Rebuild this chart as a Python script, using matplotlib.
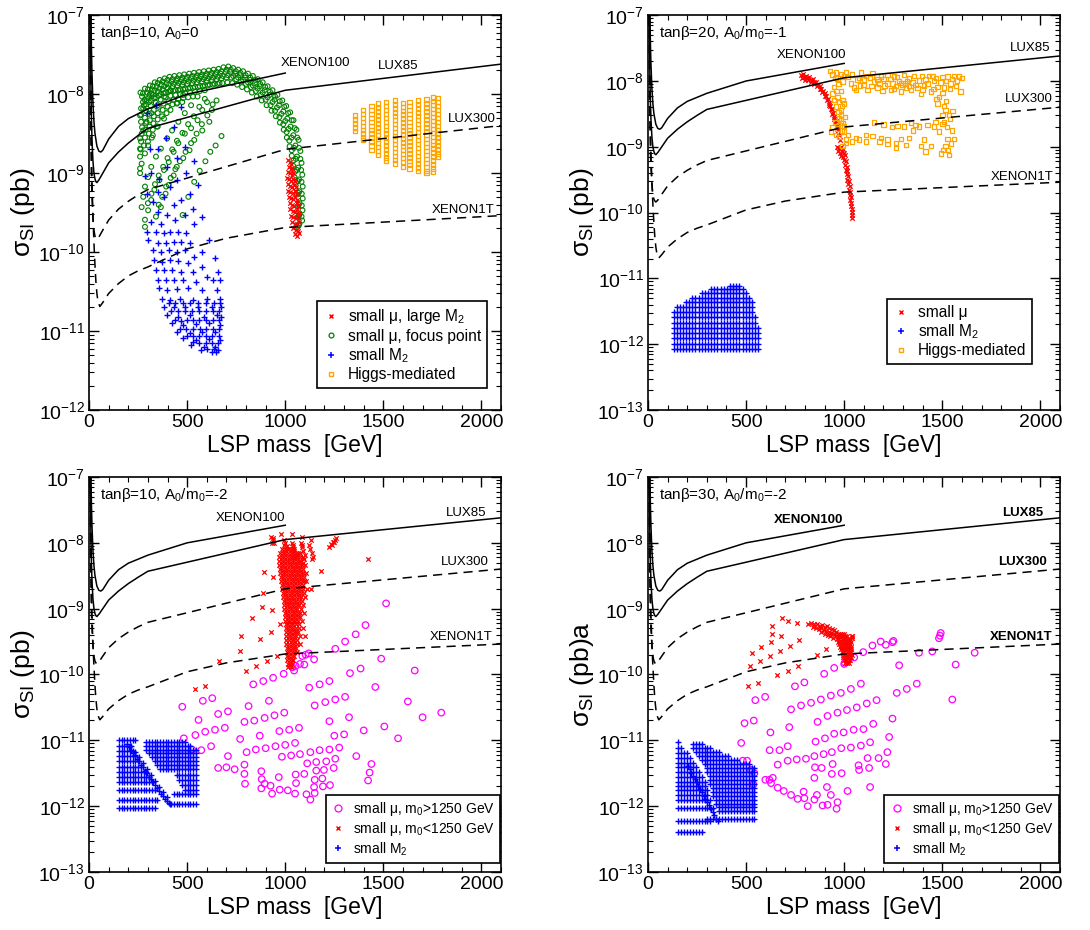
import numpy as np
import matplotlib
matplotlib.use("Agg")
import matplotlib.pyplot as plt
from matplotlib.ticker import FixedLocator, MultipleLocator, NullFormatter, FuncFormatter
from matplotlib.lines import Line2D

plt.rcParams.update({
    "font.family": ["Liberation Sans", "DejaVu Sans"],
    "mathtext.fontset": "custom",
    "mathtext.rm": "Liberation Sans",
    "mathtext.it": "Liberation Sans:italic",
    "mathtext.bf": "Liberation Sans:bold",
    "mathtext.default": "regular",
})

# ---------------- experimental limits: LSP mass [GeV], sigma_SI [pb] ----------------
xenon100_mass = [6, 8, 10, 12, 15, 20, 25, 30, 40, 50, 60, 70, 100, 150, 200, 300, 500, 1000]
xenon100_sigma = [5e-6, 5e-7, 1e-7, 4e-8, 1.8e-8, 7.5e-9, 4.5e-9, 3.2e-9, 2.2e-9, 1.9e-9, 1.85e-9,
                  1.95e-9, 2.7e-9, 3.9e-9, 4.9e-9, 6.5e-9, 1.0e-8, 1.85e-8]
lux_mass = [5, 6, 7, 8, 10, 12, 15, 20, 25, 30, 35, 40, 50, 70, 100, 150, 200, 250, 300, 1000, 2100]
lux85_sigma = [3e-6, 3e-7, 8e-8, 3.5e-8, 1e-8, 5e-9, 2.6e-9, 1.4e-9, 1.0e-9, 8.5e-10, 7.8e-10, 7.6e-10,
               8.2e-10, 1.0e-9, 1.35e-9, 1.85e-9, 2.4e-9, 3.0e-9, 3.7e-9, 1.12e-8, 2.4e-8]
lux300_sigma = [6e-7, 6e-8, 1.6e-8, 7e-9, 2e-9, 9e-10, 5e-10, 2.7e-10, 1.9e-10, 1.6e-10, 1.5e-10, 1.45e-10,
                1.55e-10, 1.9e-10, 2.55e-10, 3.5e-10, 4.4e-10, 5.3e-10, 6.2e-10, 2.0e-9, 4.0e-9]
xenon1t_mass = [6, 8, 10, 12, 15, 20, 25, 30, 35, 40, 45, 55, 70, 100, 150, 200, 250, 300, 500, 700, 1000, 2100]
xenon1t_sigma = [5e-6, 3e-7, 2e-8, 3e-9, 8e-10, 2.8e-10, 1.3e-10, 7e-11, 4.2e-11, 3e-11, 2.4e-11, 2.05e-11,
                 2.3e-11, 3.0e-11, 4.0e-11, 5.0e-11, 5.8e-11, 6.5e-11, 1.1e-10, 1.5e-10, 2.05e-10, 2.9e-10]

# ---------------- scan points: (mass [GeV], log10 sigma_SI [pb]) ----------------
# panel (a): tan(beta)=10, A0=0
p1_red = [(1014, -8.83), (1022, -8.86), (1030, -8.88), (1018, -8.92), (1028, -8.95), (1036, -8.93), (1012, -8.98),
          (1022, -9.0), (1032, -9.02), (1042, -9.0), (1010, -9.06), (1020, -9.08), (1030, -9.1), (1040, -9.07),
          (1048, -9.1), (1012, -9.14), (1022, -9.16), (1034, -9.18), (1044, -9.15), (1054, -9.18), (1016, -9.22),
          (1026, -9.24), (1038, -9.25), (1048, -9.22), (1058, -9.26), (1018, -9.3), (1030, -9.32), (1042, -9.33),
          (1052, -9.3), (1062, -9.34), (1022, -9.38), (1034, -9.4), (1046, -9.41), (1058, -9.38), (1066, -9.42),
          (1026, -9.46), (1038, -9.48), (1050, -9.49), (1062, -9.46), (1070, -9.5), (1030, -9.54), (1042, -9.56),
          (1054, -9.57), (1066, -9.55), (1036, -9.62), (1048, -9.64), (1060, -9.65), (1070, -9.62), (1042, -9.7),
          (1054, -9.72), (1064, -9.73), (1050, -9.77), (1060, -9.79), (1068, -9.76)]

p1_green_band = [
    (262, -7.98), (285, -7.93), (310, -7.89), (335, -7.85), (360, -7.82), (385, -7.80), (410, -7.78), (435, -7.77),
    (460, -7.76), (485, -7.75), (510, -7.74), (535, -7.73), (560, -7.72), (585, -7.71), (610, -7.70), (635, -7.69),
    (660, -7.68), (685, -7.66), (710, -7.65), (735, -7.67), (760, -7.69), (785, -7.71), (810, -7.74), (835, -7.77),
    (860, -7.81), (885, -7.85), (910, -7.90), (935, -7.95), (960, -8.01), (985, -8.08), (1005, -8.15), (1025, -8.23),
    (1042, -8.33), (1057, -8.45), (1068, -8.58), (1077, -8.72), (1083, -8.87), (1087, -9.02), (1089, -9.17),
    (1089, -9.32), (1088, -9.47), (1086, -9.60),
    (275, -7.99), (300, -7.94), (325, -7.90), (350, -7.86), (375, -7.84), (400, -7.82), (425, -7.81), (450, -7.80),
    (475, -7.79), (500, -7.78), (525, -7.77), (550, -7.76), (575, -7.75), (600, -7.74), (625, -7.73), (650, -7.72),
    (675, -7.71), (700, -7.69), (722, -7.69), (748, -7.71), (772, -7.73), (798, -7.76), (822, -7.79), (848, -7.82),
    (872, -7.87), (898, -7.91), (922, -7.97), (948, -8.03), (972, -8.09), (995, -8.16), (1015, -8.24),
    (1033, -8.33), (1048, -8.43), (1061, -8.55), (1070, -8.68), (1077, -8.82), (1081, -8.96), (1083, -9.11),
    (1084, -9.26), (1084, -9.41), (1083, -9.55),
    (270, -8.03), (295, -7.98), (320, -7.94), (345, -7.90), (370, -7.88), (395, -7.86), (420, -7.84), (445, -7.83),
    (470, -7.82), (495, -7.81), (520, -7.80), (545, -7.79), (570, -7.78), (595, -7.77), (620, -7.76), (645, -7.75),
    (670, -7.74), (695, -7.72), (720, -7.72), (745, -7.74), (770, -7.76), (795, -7.79), (820, -7.82), (845, -7.86),
    (870, -7.90), (895, -7.95), (920, -8.01), (945, -8.07), (968, -8.14), (990, -8.22), (1010, -8.31), (1027, -8.41),
    (1041, -8.52), (1052, -8.65), (1060, -8.79), (1066, -8.93), (1070, -9.08), (1072, -9.23), (1073, -9.38),
    (1073, -9.52), (1072, -9.64),
    (283, -8.07), (308, -8.01), (333, -7.96), (358, -7.93), (383, -7.90), (408, -7.88), (433, -7.87), (458, -7.86),
    (483, -7.85), (508, -7.84), (533, -7.83), (558, -7.82), (583, -7.81), (608, -7.80), (633, -7.79), (658, -7.78),
    (683, -7.77), (708, -7.76), (735, -7.77), (760, -7.79), (785, -7.82), (810, -7.85), (835, -7.89), (860, -7.93),
    (885, -7.98), (910, -8.04), (935, -8.10), (958, -8.17), (980, -8.25), (1000, -8.34), (1017, -8.44),
    (1032, -8.55), (1045, -8.68), (1054, -8.82), (1060, -8.96), (1064, -9.10), (1067, -9.25), (1068, -9.40),
    (1069, -9.54), (1069, -9.66),
    (275, -8.10), (300, -8.05), (325, -8.01), (350, -7.97), (375, -7.94), (400, -7.92), (425, -7.90), (450, -7.89),
    (475, -7.88), (500, -7.87), (525, -7.86), (550, -7.85), (575, -7.84), (600, -7.83), (625, -7.82), (650, -7.81),
    (675, -7.80), (700, -7.79), (725, -7.79), (750, -7.81), (775, -7.84), (800, -7.87), (825, -7.91), (850, -7.96),
    (875, -8.01), (900, -8.07), (925, -8.14), (948, -8.21), (970, -8.29), (990, -8.38), (1007, -8.48), (1021, -8.59),
    (1033, -8.71), (1042, -8.84), (1050, -8.98), (1056, -9.12), (1060, -9.27), (1062, -9.42), (1063, -9.56),
    (1064, -9.68),
    (280, -8.14), (305, -8.10), (330, -8.05), (355, -8.02), (380, -7.99), (405, -7.97), (430, -7.96), (455, -7.95),
    (480, -7.94), (505, -7.93), (530, -7.92), (555, -7.91), (580, -7.90), (605, -7.89), (630, -7.88), (655, -7.87),
    (680, -7.86), (705, -7.85), (730, -7.86), (755, -7.88), (780, -7.91), (805, -7.94), (830, -7.98), (855, -8.03),
    (880, -8.08), (905, -8.14), (930, -8.21), (952, -8.28), (973, -8.36), (992, -8.45), (1008, -8.55),
    (1022, -8.66), (1033, -8.78), (1041, -8.91), (1047, -9.05), (1052, -9.19),
    (265, -8.18), (290, -8.13), (315, -8.08), (340, -8.04), (365, -8.00), (390, -7.98), (415, -7.96), (440, -7.95),
    (465, -7.94), (490, -7.93), (515, -7.92), (540, -7.91), (565, -7.90), (590, -7.89), (615, -7.88), (640, -7.87),
    (665, -7.86),
    (265, -8.26), (290, -8.21), (315, -8.15), (340, -8.11), (365, -8.07), (390, -8.04), (415, -8.02), (440, -8.01),
    (465, -8.00), (490, -7.99), (515, -7.98), (540, -7.97), (565, -7.96), (590, -7.95),
    (265, -8.35), (285, -8.30), (305, -8.25), (330, -8.20), (355, -8.16), (380, -8.12), (405, -8.09), (430, -8.07),
    (455, -8.06), (480, -8.05), (505, -8.04), (530, -8.03),
    (270, -8.42), (290, -8.37), (310, -8.33), (330, -8.28), (350, -8.24), (375, -8.20), (400, -8.16), (425, -8.13),
    (450, -8.11), (475, -8.10), (268, -8.50), (288, -8.45), (308, -8.41), (328, -8.37), (350, -8.32), (372, -8.28),
    (395, -8.24), (265, -8.60), (285, -8.55), (305, -8.50), (325, -8.45), (345, -8.41), (263, -8.70), (280, -8.65),
    (300, -8.60), (320, -8.55),
]

p1_green_sparse = [
    (675, -8.53), (645, -8.65), (618, -8.73), (593, -8.85), (564, -8.97), (536, -9.11), (506, -9.30), (477, -9.53),
    (650, -8.08), (626, -8.20), (613, -8.35), (577, -8.46), (536, -8.58), (512, -8.71), (480, -8.81), (447, -8.92),
    (431, -9.03), (406, -9.15), (390, -9.26), (366, -9.43), (341, -9.55),
    (601, -8.10), (577, -8.20), (553, -8.33), (520, -8.43), (488, -8.50), (455, -8.62), (431, -8.73), (406, -8.86),
    (382, -8.96), (358, -9.09), (333, -9.21), (317, -9.34), (301, -9.47), (285, -9.59), (285, -9.68),
    (553, -8.03), (520, -8.14), (488, -8.24), (455, -8.35), (423, -8.46), (398, -8.56), (366, -8.69), (341, -8.79),
    (317, -8.92), (301, -9.05), (285, -9.17), (276, -9.30), (268, -9.43),
    (480, -8.01), (447, -8.12), (415, -8.20), (382, -8.31), (350, -8.41), (325, -8.52), (301, -8.65), (285, -8.75),
    (268, -8.88), (260, -9.00),
    (415, -7.95), (382, -8.03), (350, -8.14), (317, -8.24), (293, -8.35), (276, -8.46), (260, -8.56), (260, -8.69),
    (260, -8.79), (260, -8.94),
    (317, -7.99), (293, -8.08), (276, -8.18), (260, -8.27),
    (630, -8.13), (603, -8.27), (575, -8.38), (548, -8.50), (520, -8.62), (492, -8.73), (463, -8.85), (440, -8.95),
    (416, -9.06), (393, -9.17), (373, -9.30), (355, -9.40),
    (590, -8.06), (562, -8.16), (534, -8.28), (505, -8.38), (476, -8.49), (448, -8.59), (424, -8.70), (400, -8.81),
    (378, -8.92), (355, -9.03), (336, -9.14), (318, -9.26), (300, -9.38),
]

p1_blue = [
    (293, -8.24), (341, -8.14), (471, -8.16), (431, -8.41), (390, -8.56), (309, -8.69), (350, -8.69), (488, -8.67),
    (447, -8.81), (536, -8.84), (398, -8.92), (285, -9.03), (317, -9.00), (358, -9.07), (496, -9.00), (553, -9.15),
    (447, -9.09), (415, -9.17), (293, -9.26), (350, -9.24), (382, -9.30), (512, -9.26), (471, -9.34), (431, -9.40),
    (325, -9.36), (528, -9.46), (350, -9.49), (398, -9.53), (488, -9.53), (577, -9.55), (317, -9.62), (366, -9.64),
    (439, -9.59), (536, -9.64), (293, -9.74), (341, -9.74), (382, -9.76), (415, -9.74), (455, -9.74), (496, -9.76),
    (610, -9.85), (301, -9.85), (350, -9.89), (390, -9.88), (431, -9.87), (471, -9.87), (512, -9.89), (577, -10.0),
    (325, -9.97), (366, -10.0), (406, -9.97), (447, -10.0), (488, -9.97), (536, -10.06), (642, -10.08),
    (333, -10.10), (374, -10.12), (415, -10.10), (455, -10.11), (504, -10.14), (577, -10.19), (658, -10.25),
    (341, -10.23), (382, -10.23), (423, -10.23), (471, -10.25), (528, -10.25), (601, -10.31), (350, -10.35),
    (390, -10.35), (431, -10.35), (480, -10.35), (545, -10.38), (634, -10.35), (668, -10.35), (358, -10.46),
    (398, -10.48), (447, -10.47), (504, -10.46), (577, -10.48), (650, -10.48), (374, -10.59), (415, -10.60),
    (463, -10.59), (528, -10.60), (601, -10.59), (666, -10.59), (382, -10.69), (431, -10.70), (488, -10.69),
    (553, -10.69), (626, -10.69), (672, -10.69), (398, -10.80), (455, -10.82), (512, -10.80), (585, -10.82),
    (650, -10.80), (672, -10.82), (423, -10.90), (480, -10.92), (545, -10.91), (610, -10.90), (666, -10.92),
    (447, -11.01), (512, -11.02), (577, -11.01), (642, -11.01), (480, -11.09), (545, -11.11), (610, -11.10),
    (666, -11.11), (520, -11.18), (585, -11.20), (642, -11.20), (569, -11.24), (626, -11.26), (658, -11.24),
    (463, -10.97), (495, -10.97), (530, -10.97), (563, -10.97), (596, -10.97), (630, -10.97), (660, -10.97),
    (500, -11.06), (530, -11.06), (562, -11.06), (595, -11.06), (628, -11.06), (660, -11.06), (530, -11.14),
    (560, -11.15), (595, -11.15), (625, -11.15), (655, -11.15), (600, -11.22), (635, -11.23), (648, -11.27),
    (440, -10.86), (470, -10.87), (500, -10.86), (530, -10.86), (560, -10.86), (595, -10.86), (630, -10.86),
    (660, -10.86), (420, -10.75), (455, -10.75), (490, -10.75), (525, -10.75), (560, -10.75), (595, -10.75),
    (630, -10.75), (662, -10.75), (405, -10.64), (440, -10.64), (480, -10.64), (515, -10.64), (555, -10.64),
    (595, -10.64), (635, -10.64), (665, -10.64),
]

p1_orange_cols = [
    (1354, [-8.27, -8.32, -8.37, -8.42, -8.47]),
    (1396, [-8.20, -8.25, -8.30, -8.35, -8.40, -8.45, -8.50, -8.55, -8.58]),
    (1439, [-8.15, -8.20, -8.25, -8.30, -8.35, -8.40, -8.45, -8.50, -8.55, -8.60, -8.65, -8.71]),
    (1473, [-8.12, -8.17, -8.22, -8.27, -8.32, -8.37, -8.42, -8.47, -8.52, -8.57, -8.62, -8.67, -8.72, -8.77]),
    (1515, [-8.10, -8.15, -8.20, -8.25, -8.30, -8.35, -8.40, -8.45, -8.50, -8.55, -8.60, -8.65, -8.70, -8.75,
            -8.80, -8.84]),
    (1558, [-8.08, -8.13, -8.18, -8.23, -8.28, -8.33, -8.38, -8.43, -8.48, -8.53, -8.58, -8.63, -8.68, -8.73,
            -8.78, -8.83, -8.88]),
    (1600, [-8.11, -8.16, -8.21, -8.26, -8.31, -8.36, -8.41, -8.46, -8.51, -8.56, -8.61, -8.66, -8.71, -8.76,
            -8.81, -8.86, -8.92]),
    (1634, [-8.10, -8.15, -8.20, -8.25, -8.30, -8.35, -8.40, -8.45, -8.50, -8.55, -8.60, -8.65, -8.70, -8.75,
            -8.80, -8.85, -8.90, -8.94]),
    (1676, [-8.08, -8.13, -8.18, -8.23, -8.28, -8.33, -8.38, -8.43, -8.48, -8.53, -8.58, -8.63, -8.68, -8.73,
            -8.78, -8.83, -8.88, -8.93, -8.97]),
    (1719, [-8.07, -8.12, -8.17, -8.22, -8.27, -8.32, -8.37, -8.42, -8.47, -8.52, -8.57, -8.62, -8.67, -8.72,
            -8.77, -8.82, -8.87, -8.92, -8.97, -9.00]),
    (1753, [-8.04, -8.09, -8.14, -8.19, -8.24, -8.29, -8.34, -8.39, -8.44, -8.49, -8.54, -8.59, -8.64, -8.69,
            -8.74, -8.79, -8.84, -8.89, -8.94, -8.98]),
    (1778, [-8.05, -8.10, -8.15, -8.20, -8.25, -8.30, -8.35, -8.40, -8.45, -8.50, -8.55, -8.60, -8.65, -8.70,
            -8.75, -8.79]),
]

# panel (b): tan(beta)=20, A0/m0=-1
p2_red = [(780, -7.91), (790, -7.89), (795, -7.94), (805, -7.92), (812, -7.96), (822, -7.94), (830, -7.98),
          (840, -7.97), (848, -8.01), (858, -8.02), (866, -8.06), (875, -8.08), (884, -8.12), (892, -8.15),
          (900, -8.19), (908, -8.23), (915, -8.28), (922, -8.33), (930, -8.38), (937, -8.43), (944, -8.49),
          (950, -8.55), (956, -8.61), (962, -8.68), (968, -8.75), (973, -8.82), (978, -8.89),
          (785, -7.95), (800, -7.98), (815, -7.99), (830, -8.02), (845, -8.05), (860, -8.08), (875, -8.12),
          (888, -8.17), (900, -8.23), (912, -8.29), (922, -8.36), (932, -8.43), (940, -8.50), (948, -8.57),
          (955, -8.64), (962, -8.72), (968, -8.80),
          (962, -9.0), (972, -9.02), (982, -9.0), (992, -9.03), (968, -9.07), (978, -9.09), (988, -9.08),
          (998, -9.1), (985, -9.14), (995, -9.16), (1005, -9.13),
          (1000, -9.2), (1008, -9.22), (1004, -9.27), (1012, -9.3), (1008, -9.35), (1016, -9.37), (1012, -9.42),
          (1020, -9.45), (1016, -9.5), (1024, -9.52), (1020, -9.57), (1027, -9.6), (1024, -9.65), (1030, -9.68),
          (1028, -9.73), (1034, -9.76), (1032, -9.81), (1037, -9.85), (1035, -9.9), (1040, -9.94), (1038, -9.99),
          (1042, -10.03), (1041, -10.08)]

p2_orange = [
    (929, -7.85), (958, -7.87), (983, -7.89), (1009, -7.86), (966, -7.96), (992, -8.01), (1017, -7.94),
    (1034, -8.04), (1059, -8.14), (1085, -7.87), (1110, -7.92), (1098, -8.06), (1119, -8.14), (1144, -7.88),
    (1153, -8.01), (1170, -8.10), (1187, -7.93), (1195, -8.15), (1220, -7.91), (1220, -8.04), (1237, -8.14),
    (1254, -7.93), (1263, -8.08), (1280, -8.00), (1288, -8.16), (1305, -7.91), (1314, -8.10), (1331, -7.96),
    (1339, -8.14), (1356, -7.92), (1364, -8.06), (1381, -7.99), (1390, -8.20), (1407, -8.07), (1432, -7.92),
    (1441, -8.16), (1458, -8.00), (1475, -8.09), (1483, -8.24), (1500, -7.94), (1509, -8.10), (1526, -7.93),
    (1542, -8.04), (1559, -7.92), (1576, -7.99), (1593, -8.16), (1585, -7.93), (1068, -7.98), (1102, -7.98),
    (1170, -7.98), (1246, -8.04), (1297, -8.06), (1424, -8.04), (1373, -8.11),
    (940, -7.90), (1000, -7.92), (1040, -7.90), (1075, -7.95), (1130, -7.95), (1165, -7.93), (1200, -7.97),
    (1235, -7.97), (1270, -7.94), (1290, -8.03), (1320, -8.00), (1348, -8.02), (1395, -7.92), (1415, -7.98),
    (1450, -7.92), (1468, -7.95), (1490, -8.02), (1520, -8.00), (1550, -7.97), (1570, -8.08), (1600, -7.95),
    (1080, -8.07), (1140, -8.08), (1205, -8.07), (1255, -8.12), (1330, -8.08), (1400, -8.13), (1455, -8.12),
    (1540, -8.12), (1050, -8.10), (1180, -8.04), (1310, -8.04), (1500, -8.18), (1470, -8.27), (1520, -8.30),
    (949, -8.09), (966, -8.24), (958, -8.39), (983, -8.44), (975, -8.57), (992, -8.64), (966, -8.72),
    (1000, -8.77), (932, -8.77), (958, -8.82), (1009, -8.89), (992, -8.99), (1009, -8.94), (949, -8.29),
    (941, -8.19), (1000, -8.34), (983, -8.52), (992, -8.29), (955, -7.95), (970, -8.05), (985, -8.15),
    (960, -8.15), (975, -8.32), (990, -8.38), (970, -8.47), (985, -8.60), (1000, -8.68), (975, -8.85),
    (990, -8.75), (1005, -8.55), (940, -8.70), (955, -8.62), (1020, -8.82),
    (1076, -8.89), (1110, -8.92), (1110, -8.82), (1144, -8.84), (1153, -8.63), (1187, -8.87), (1220, -8.89),
    (1220, -8.96), (1263, -8.94), (1263, -9.02), (1271, -8.68), (1305, -8.69), (1314, -8.97), (1331, -8.87),
    (1339, -8.64), (1364, -8.67), (1381, -8.69), (1390, -8.99), (1407, -8.89), (1415, -9.07), (1424, -8.67),
    (1441, -8.99), (1458, -8.69), (1466, -8.62), (1483, -8.77), (1492, -9.10), (1509, -8.62), (1517, -8.99),
    (1526, -8.88), (1534, -9.12), (1551, -8.46), (1559, -8.88), (1534, -8.52), (1517, -8.44), (1475, -8.34),
    (1509, -8.38), (1500, -8.52), (1540, -8.58), (1550, -8.75), (1525, -8.70), (1500, -8.65), (1545, -8.95),
    (1530, -9.05), (1505, -9.05), (1040, -8.92), (1060, -8.87), (1180, -8.92), (1290, -8.88), (1350, -8.75),
    (1245, -8.70), (1200, -8.66),
]

p2_blue_grid = [130, 146, 162, 178, 194, 210, 226, 242, 258, 274, 290, 306, 322, 338, 354, 370, 386, 402,
                418, 434, 450, 466, 482, 498, 514, 530, 546, 560]
p2_blue_rows = [
    (-12.07, p2_blue_grid), (-11.99, p2_blue_grid), (-11.91, p2_blue_grid), (-11.83, p2_blue_grid),
    (-11.75, p2_blue_grid), (-11.67, p2_blue_grid[:27]), (-11.59, p2_blue_grid[:27]),
    (-11.51, p2_blue_grid[:26]), (-11.43, p2_blue_grid[1:26]), (-11.36, p2_blue_grid[4:26]),
    (-11.29, p2_blue_grid[6:25]), (-11.22, p2_blue_grid[9:24]), (-11.16, p2_blue_grid[12:23]),
    (-11.11, p2_blue_grid[18:22]),
]

# panel (c): tan(beta)=10, A0/m0=-2
p3_red_plume = [
    (-8.10, [985, 997, 1009, 1021, 1033, 1045]),
    (-8.16, [975, 988, 1001, 1014, 1027, 1040, 1053, 1066, 1075]),
    (-8.22, [970, 983, 996, 1009, 1022, 1035, 1048, 1061, 1074, 1088]),
    (-8.28, [968, 981, 994, 1007, 1020, 1033, 1046, 1059, 1072, 1080]),
    (-8.34, [970, 983, 996, 1009, 1022, 1035, 1048, 1061, 1074, 1087, 1100]),
    (-8.40, [972, 985, 998, 1011, 1024, 1037, 1050, 1063, 1076, 1090]),
    (-8.46, [975, 988, 1001, 1014, 1027, 1040, 1053, 1066, 1079, 1092, 1108]),
    (-8.52, [978, 991, 1004, 1017, 1030, 1043, 1056, 1069, 1082, 1095]),
    (-8.58, [980, 993, 1006, 1019, 1032, 1045, 1058, 1071, 1084, 1096, 1105]),
    (-8.64, [982, 995, 1008, 1021, 1034, 1047, 1060, 1073, 1090]),
    (-8.70, [985, 998, 1011, 1024, 1037, 1050, 1063, 1076, 1089, 1110]),
    (-8.76, [988, 1001, 1014, 1027, 1040, 1053, 1066, 1079, 1095]),
    (-8.82, [990, 1003, 1016, 1029, 1042, 1055, 1068, 1081, 1100]),
    (-8.88, [992, 1005, 1018, 1031, 1044, 1057, 1070, 1085]),
    (-8.94, [994, 1007, 1020, 1033, 1046, 1059, 1072, 1090]),
    (-9.00, [996, 1009, 1022, 1035, 1048, 1061, 1080]),
    (-9.06, [998, 1011, 1024, 1037, 1050, 1063, 1076, 1095]),
    (-9.12, [1000, 1013, 1026, 1039, 1052, 1065, 1075]),
    (-9.18, [1000, 1013, 1026, 1039, 1052, 1065, 1085]),
    (-9.24, [1002, 1015, 1028, 1041, 1054, 1070]),
    (-9.30, [1003, 1016, 1029, 1042, 1055, 1068, 1090]),
    (-9.36, [1004, 1017, 1030, 1043, 1056, 1065]),
    (-9.42, [1005, 1018, 1031, 1044, 1057, 1075, 1100]),
    (-9.48, [1006, 1019, 1032, 1045, 1060]),
    (-9.54, [1006, 1019, 1032, 1045, 1060, 1075]),
    (-9.60, [1007, 1020, 1033, 1046, 1055]),
    (-9.66, [1008, 1021, 1034, 1047, 1060]),
    (-9.72, [1008, 1021, 1034, 1045]),
    (-9.78, [1010, 1022, 1034, 1040]),
    (-9.84, [1012, 1024, 1035]),
    (-9.88, [1016, 1030]),
]
p3_red_other = [
    (925, -7.91), (935, -7.96), (945, -8.01), (930, -8.0), (940, -7.93), (992, -7.95), (1000, -8.0),
    (1008, -8.05), (996, -8.03), (1033, -8.01), (1040, -8.06), (1047, -8.12), (1053, -8.18), (1045, -8.21),
    (1038, -8.04), (1080, -8.01), (1087, -8.07), (1093, -8.13), (1100, -8.19), (1095, -8.24), (1085, -8.04),
    (1122, -8.04), (1128, -8.10), (1135, -8.16), (1142, -8.22), (1138, -8.24), (1225, -8.06), (1235, -8.02),
    (1243, -7.98), (1252, -7.95), (1258, -7.93), (1240, -8.04), (1250, -7.99),
    (980, -7.86), (1033, -7.87), (1083, -7.91), (1130, -7.95), (1422, -8.25), (1183, -8.43), (892, -8.45),
    (938, -8.52), (1088, -8.30), (888, -8.76), (883, -8.98), (933, -9.02), (833, -9.14), (975, -9.23),
    (925, -9.35), (872, -9.46), (775, -9.41), (767, -9.65), (958, -9.72), (905, -9.80), (853, -9.87),
    (800, -9.94), (662, -9.80), (542, -10.22), (592, -10.17), (1130, -8.70),
]
p3_magenta = [
    (1514, -8.92), (1409, -9.25), (1359, -9.39), (1305, -9.50), (1255, -9.61), (1147, -9.77), (1120, -9.68),
    (1104, -9.70), (1087, -9.72), (1097, -9.85), (1075, -9.84), (1053, -9.87), (1037, -9.89), (1045, -9.94),
    (1489, -9.76), (1384, -9.91), (1330, -9.98), (1459, -10.19), (1225, -10.10), (1175, -10.15), (1122, -10.20),
    (992, -9.99), (938, -10.05), (888, -10.10), (837, -10.15), (1305, -10.34), (1255, -10.38), (1204, -10.42),
    (1150, -10.47), (917, -10.40), (813, -10.48), (628, -10.36), (580, -10.40), (475, -10.49), (995, -10.58),
    (945, -10.62), (895, -10.66), (842, -10.70), (792, -10.72), (708, -10.56), (658, -10.60), (558, -10.69),
    (1225, -10.71), (1325, -10.65), (1505, -10.79), (1400, -10.85), (1300, -10.91), (1250, -10.93),
    (1575, -10.97), (1070, -10.81), (1020, -10.84), (970, -10.86), (870, -10.93), (770, -10.98), (692, -10.81),
    (642, -10.84), (592, -10.87), (542, -10.92), (483, -10.97), (622, -11.09), (572, -11.15), (525, -11.14),
    (1275, -11.11), (1225, -11.14), (1175, -11.15), (1128, -11.18), (1050, -11.04), (1000, -11.07),
    (950, -11.09), (900, -11.12), (850, -11.14), (803, -11.18), (1362, -11.24), (1255, -11.28), (1209, -11.32),
    (1158, -11.33), (1112, -11.35), (1075, -11.21), (1030, -11.23), (983, -11.25), (708, -11.24), (658, -11.42),
    (700, -11.41), (742, -11.44), (792, -11.37), (792, -11.51), (795, -11.66), (878, -11.47), (880, -11.59),
    (895, -11.66), (967, -11.56), (1053, -11.52), (1055, -11.65), (1097, -11.51), (1158, -11.46),
    (1197, -11.45), (1247, -11.42), (1150, -11.60), (1189, -11.58), (1192, -11.70), (1147, -11.71),
    (1228, -11.68), (925, -11.69), (972, -11.75), (1013, -11.76), (933, -11.81), (878, -11.73), (1050, -11.81),
    (1108, -11.82), (1150, -11.80), (1128, -11.90), (1439, -11.36), (1430, -11.49), (1422, -11.61),
    (1660, -9.94), (1625, -10.41), (1700, -10.65), (1795, -10.58),
]
p3_blue_grid = [152, 166, 180, 194, 208, 222, 236, 250, 264, 278, 292, 306, 320, 334, 348, 362, 376, 390,
                404, 418, 432, 446, 460, 474, 488, 502, 516, 530, 544]
p3_blue_rows = [
    (-11.00, p3_blue_grid[:7]), (-11.08, p3_blue_grid[:5]), (-11.16, p3_blue_grid[:6]),
    (-11.24, p3_blue_grid[:7]), (-11.32, p3_blue_grid[:8]), (-11.40, p3_blue_grid[:9]),
    (-11.48, p3_blue_grid[:11]), (-11.56, p3_blue_grid[:12]), (-11.64, p3_blue_grid[:13]),
    (-11.75, p3_blue_grid[:14]), (-11.90, p3_blue_grid[:15]), (-12.03, p3_blue_grid[:14]),
    (-11.02, p3_blue_grid[10:25]), (-11.08, p3_blue_grid[10:27]), (-11.14, p3_blue_grid[10:]),
    (-11.20, p3_blue_grid[11:]), (-11.26, p3_blue_grid[12:]), (-11.32, p3_blue_grid[13:]),
    (-11.38, p3_blue_grid[14:]), (-11.44, p3_blue_grid[15:]),
    (-11.52, p3_blue_grid[21:]), (-11.60, p3_blue_grid[22:]), (-11.68, p3_blue_grid[23:]),
    (-11.76, p3_blue_grid[24:]), (-11.82, p3_blue_grid[20:]), (-11.96, p3_blue_grid[19:]),
]
p3_blue_streak = [
    (195, -11.05), (205, -11.10), (215, -11.14), (225, -11.19), (235, -11.23), (245, -11.28), (255, -11.32),
    (265, -11.37), (275, -11.41), (285, -11.46), (295, -11.50), (305, -11.55), (315, -11.59), (325, -11.64),
    (335, -11.68), (345, -11.73), (355, -11.77), (365, -11.81), (375, -11.85), (385, -11.89), (395, -11.92),
    (405, -11.95), (415, -11.97), (215, -11.08), (235, -11.17), (255, -11.26), (275, -11.35), (295, -11.44),
    (315, -11.53), (335, -11.62), (355, -11.71), (375, -11.79), (395, -11.86),
]

# panel (d): tan(beta)=30, A0/m0=-2
p4_red_rows = [
    (-9.38, [955, 966, 977, 988, 1000]),
    (-9.42, [960, 971, 982, 993, 1004, 1015, 1040]),
    (-9.46, [965, 976, 987, 998, 1009, 1020, 1030]),
    (-9.50, [970, 981, 992, 1003, 1014, 1025, 1035]),
    (-9.54, [975, 986, 997, 1008, 1019, 1030]),
    (-9.58, [980, 991, 1002, 1013, 1024, 1035]),
    (-9.62, [985, 996, 1007, 1018, 1029, 1035]),
    (-9.66, [990, 1001, 1012, 1023, 1034]),
    (-9.70, [993, 1004, 1015, 1026, 1038]),
    (-9.74, [996, 1007, 1018, 1029, 1035]),
    (-9.78, [1000, 1011, 1022, 1030]),
    (-9.82, [1005, 1015, 1025]),
]
p4_red_other = [
    (681, -9.14), (712, -9.18), (758, -9.22), (632, -9.27), (632, -9.39), (678, -9.42), (629, -9.51),
    (724, -9.56), (576, -9.59), (529, -9.67), (673, -9.65), (624, -9.72), (570, -9.80), (519, -9.87),
    (763, -9.87), (712, -9.94), (658, -10.01), (559, -10.13), (509, -10.18), (768, -9.47), (861, -9.71),
    (907, -9.62), (1042, -9.42), (1040, -9.45),
    (814, -9.23), (830, -9.22), (848, -9.24), (862, -9.23), (875, -9.26), (888, -9.25), (900, -9.28),
    (912, -9.27), (925, -9.30), (938, -9.31), (948, -9.33), (958, -9.35), (840, -9.28), (856, -9.29),
    (870, -9.31), (884, -9.30), (896, -9.33), (908, -9.34), (920, -9.35), (932, -9.37), (944, -9.38),
    (880, -9.36), (900, -9.38), (915, -9.40), (930, -9.42), (945, -9.44),
]
p4_magenta = [
    (1492, -9.37), (1483, -9.45), (1488, -9.41), (1665, -9.67), (1568, -9.85), (1551, -10.38), (1449, -9.65),
    (1381, -9.67), (1280, -9.86), (1251, -9.49), (1246, -9.51), (1212, -9.55), (1186, -9.50), (1144, -9.56),
    (1097, -9.66), (1051, -9.74), (1000, -9.84), (949, -9.90), (898, -9.99), (1370, -10.14), (1319, -10.22),
    (1268, -10.28), (1085, -10.14), (1034, -10.22), (983, -10.28), (932, -10.32), (881, -10.38), (831, -10.43),
    (780, -10.47), (729, -10.53), (1165, -10.39), (1115, -10.44), (1064, -10.50), (1014, -10.54), (966, -10.58),
    (915, -10.63), (864, -10.72), (749, -10.18), (797, -10.12), (597, -10.34), (547, -10.39), (492, -10.74),
    (539, -10.70), (624, -10.88), (720, -10.80), (1246, -10.67), (1148, -10.75), (1098, -10.83), (1048, -10.84),
    (997, -10.88), (949, -10.90), (902, -10.97), (854, -11.02), (1229, -10.95), (1132, -11.03), (1085, -11.08),
    (1034, -11.11), (985, -11.12), (937, -11.18), (895, -11.21), (848, -11.24), (805, -11.28), (758, -11.29),
    (712, -11.09), (670, -11.15), (620, -11.15), (661, -11.37), (712, -11.31), (475, -11.04), (483, -11.31),
    (505, -11.31), (525, -11.45), (542, -11.50), (537, -11.67), (598, -11.60), (619, -11.60), (636, -11.57),
    (627, -11.65), (661, -11.72), (692, -11.77), (729, -11.83), (763, -11.89), (797, -11.88), (793, -11.78),
    (814, -12.00), (848, -11.90), (861, -11.83), (890, -11.99), (915, -11.98), (932, -11.83), (912, -11.71),
    (966, -11.94), (961, -12.04), (885, -11.42), (848, -11.57), (851, -11.41), (937, -11.51), (987, -11.50),
    (941, -11.36), (1220, -11.18), (1212, -11.36), (1127, -11.42), (1076, -11.45), (1132, -11.71),
    (1017, -11.77), (1175, -11.27), (1119, -11.27), (1073, -11.38), (1017, -9.78), (1003, -9.82),
]
p4_blue_grid = [153, 168, 183, 198, 213, 228, 243, 258, 273, 288, 303, 318, 333, 348, 363, 378, 393, 408,
                423, 438, 453, 468, 483, 498, 513, 528, 542]
p4_blue_rows = [
    (-11.03, p4_blue_grid[:1]), (-11.11, p4_blue_grid[:2]), (-11.19, p4_blue_grid[:4]),
    (-11.27, p4_blue_grid[:5]), (-11.34, p4_blue_grid[:6]), (-11.41, p4_blue_grid[:7]),
    (-11.48, p4_blue_grid[:8]), (-11.56, p4_blue_grid[:9]), (-11.63, p4_blue_grid[:10]),
    (-11.70, p4_blue_grid[:10]), (-11.76, p4_blue_grid[:11]), (-11.83, p4_blue_grid[:11]),
    (-11.90, p4_blue_grid[:12]), (-12.03, p4_blue_grid[:13]), (-12.22, p4_blue_grid[:12]),
    (-12.40, p4_blue_grid[:9]),
    (-11.06, p4_blue_grid[5:9]), (-11.12, p4_blue_grid[5:12]), (-11.18, p4_blue_grid[6:15]),
    (-11.24, p4_blue_grid[7:18]), (-11.30, p4_blue_grid[8:21]), (-11.36, p4_blue_grid[9:25]),
    (-11.42, p4_blue_grid[10:]), (-11.48, p4_blue_grid[10:]), (-11.54, p4_blue_grid[11:]),
    (-11.60, p4_blue_grid[11:]), (-11.66, p4_blue_grid[11:]), (-11.72, p4_blue_grid[12:]),
    (-11.78, p4_blue_grid[12:]), (-11.84, p4_blue_grid[12:]), (-11.90, p4_blue_grid[13:]),
    (-11.96, p4_blue_grid[13:]), (-12.02, p4_blue_grid[14:]), (-12.08, p4_blue_grid[14:]),
    (-12.19, p4_blue_grid[10:]),
]
p4_blue_streak = [
    (203, -11.39), (212, -11.44), (221, -11.49), (230, -11.54), (239, -11.59), (248, -11.64), (257, -11.69),
    (266, -11.74), (275, -11.79), (284, -11.84), (293, -11.89), (302, -11.94), (311, -11.99), (320, -12.04),
    (329, -12.09), (338, -12.14), (347, -12.19), (356, -12.23),
]


# ---------------- helpers ----------------
def from_pairs(pairs):
    a = np.asarray(pairs, float)
    return a[:, 0], 10.0 ** a[:, 1]


def from_rows(rows):
    xs, ys = [], []
    for lg, masses in rows:
        xs += list(masses)
        ys += [lg] * len(masses)
    return np.asarray(xs, float), 10.0 ** np.asarray(ys, float)


def from_cols(cols):
    xs, ys = [], []
    for m, lgs in cols:
        xs += [m] * len(lgs)
        ys += list(lgs)
    return np.asarray(xs, float), 10.0 ** np.asarray(ys, float)


RED = "#ff0000"
GREEN = "#008000"
BLUE = "#0000ff"
ORANGE = "#ffa500"
MAGENTA = "#ff00ff"

STY = {
    "red": dict(marker="x", s=10, c=RED, linewidths=0.9),
    "green": dict(marker="o", s=12, facecolors="none", edgecolors=GREEN, linewidths=0.8),
    "blue": dict(marker="+", s=24, c=BLUE, linewidths=1.0),
    "orange": dict(marker="s", s=10, facecolors="none", edgecolors=ORANGE, linewidths=0.9),
    "magenta": dict(marker="o", s=22, facecolors="none", edgecolors=MAGENTA, linewidths=0.9),
}

HANDLE = {
    "red": Line2D([], [], ls="none", marker="x", color=RED, markersize=3.5, mew=1.0),
    "green": Line2D([], [], ls="none", marker="o", mfc="none", mec=GREEN, markersize=3.5, mew=0.9),
    "blue": Line2D([], [], ls="none", marker="+", color=BLUE, markersize=5, mew=1.1),
    "orange": Line2D([], [], ls="none", marker="s", mfc="none", mec=ORANGE, markersize=3.2, mew=1.0),
    "magenta": Line2D([], [], ls="none", marker="o", mfc="none", mec=MAGENTA, markersize=5, mew=0.9),
}

DASH = (0, (6, 4))


def sci_label(v, pos):
    return r"$10^{%d}$" % int(round(np.log10(v)))


def setup_axes(ax, low_exp, ylabel):
    ax.set_xlim(0, 2100)
    ax.set_yscale("log")
    ax.set_ylim(10.0 ** low_exp, 1e-7)
    ax.xaxis.set_major_locator(FixedLocator([0, 500, 1000, 1500, 2000]))
    ax.xaxis.set_minor_locator(MultipleLocator(100))
    decades = [10.0 ** e for e in range(low_exp, -6)]
    minors = [m * d for d in decades[:-1] for m in range(2, 10)]
    ax.yaxis.set_major_locator(FixedLocator(decades))
    ax.yaxis.set_minor_locator(FixedLocator(minors))
    ax.yaxis.set_major_formatter(FuncFormatter(sci_label))
    ax.yaxis.set_minor_formatter(NullFormatter())
    ax.tick_params(which="both", direction="in", top=True, right=True)
    ax.tick_params(which="major", length=7, width=1.0, labelsize=14, pad=3)
    ax.tick_params(which="minor", length=3.5, width=0.8)
    for sp in ax.spines.values():
        sp.set_linewidth(1.2)
    ax.set_xlabel("LSP mass  [GeV]", fontsize=16.5, labelpad=2)
    ax.set_ylabel(ylabel, fontsize=19, labelpad=1)


def draw_limits(ax, pos, weight="normal"):
    ax.plot(xenon100_mass, xenon100_sigma, color="k", lw=1.1)
    ax.plot(lux_mass, lux85_sigma, color="k", lw=1.1)
    ax.plot(lux_mass, lux300_sigma, color="k", lw=1.1, ls=DASH)
    ax.plot(xenon1t_mass, xenon1t_sigma, color="k", lw=1.1, ls=DASH)
    for name, (x, lg, ha) in pos.items():
        ax.text(x, 10 ** lg, name, ha=ha, va="center", fontsize=9.5, fontweight=weight)


def add_legend(ax, keys, labels, anchor, size):
    leg = ax.legend([HANDLE[k] for k in keys], labels, loc="lower right", bbox_to_anchor=anchor,
                    fontsize=size, handlelength=1.0, handletextpad=0.6, borderpad=0.38,
                    labelspacing=0.15, borderaxespad=0, frameon=True, fancybox=False,
                    framealpha=1, edgecolor="black")
    leg.get_frame().set_linewidth(1.2)


fig = plt.figure(figsize=(10.9, 9.3), dpi=100)
W, H = 0.378, 0.4247
ax1 = fig.add_axes([0.0817, 0.559, W, H])
ax2 = fig.add_axes([0.5945, 0.559, W, H])
ax3 = fig.add_axes([0.0817, 0.0624, W, H])
ax4 = fig.add_axes([0.5945, 0.0624, W, H])

ylab = r"σ$_{SI}$ (pb)"

# ---- panel (a) ----
setup_axes(ax1, -12, ylab)
draw_limits(ax1, {"XENON100": (975, -7.60, "left"), "LUX85": (1470, -7.64, "left"),
                  "LUX300": (2075, -8.31, "right"), "XENON1T": (2068, -9.47, "right")})
ax1.scatter(*from_pairs(p1_green_band), **STY["green"])
ax1.scatter(*from_pairs(p1_green_sparse), **STY["green"])
ax1.scatter(*from_pairs(p1_blue), **STY["blue"])
ax1.scatter(*from_pairs(p1_red), **STY["red"])
ax1.scatter(*from_cols(p1_orange_cols), **STY["orange"])
ax1.text(0.027, 0.955, r"tanβ=10, A$_0$=0", transform=ax1.transAxes, fontsize=11, va="center")
add_legend(ax1, ["red", "green", "blue", "orange"],
           [r"small μ, large M$_2$", "small μ, focus point", r"small M$_2$", "Higgs-mediated"],
           (0.966, 0.056), 11.2)

# ---- panel (b) ----
setup_axes(ax2, -13, ylab)
draw_limits(ax2, {"XENON100": (655, -7.61, "left"), "LUX85": (2050, -7.50, "right"),
                  "LUX300": (2065, -8.27, "right"), "XENON1T": (2068, -9.46, "right")})
ax2.scatter(*from_pairs(p2_red), **STY["red"])
ax2.scatter(*from_pairs(p2_orange), **STY["orange"])
ax2.scatter(*from_rows(p2_blue_rows), **STY["blue"])
ax2.text(0.027, 0.955, r"tanβ=20, A$_0$/m$_0$=-1", transform=ax2.transAxes, fontsize=11, va="center")
add_legend(ax2, ["red", "blue", "orange"], ["small μ", r"small M$_2$", "Higgs-mediated"],
           (0.932, 0.116), 11.2)

# ---- panel (c) ----
setup_axes(ax3, -13, ylab)
draw_limits(ax3, {"XENON100": (646, -7.63, "left"), "LUX85": (2024, -7.54, "right"),
                  "LUX300": (2036, -8.29, "right"), "XENON1T": (2058, -9.43, "right")})
ax3.scatter(*from_pairs(p3_magenta), **STY["magenta"])
ax3.scatter(*from_rows(p3_red_plume), **STY["red"])
ax3.scatter(*from_pairs(p3_red_other), **STY["red"])
ax3.scatter(*from_rows(p3_blue_rows), **STY["blue"])
ax3.scatter(*from_pairs(p3_blue_streak), **STY["blue"])
ax3.text(0.027, 0.955, r"tanβ=10, A$_0$/m$_0$=-2", transform=ax3.transAxes, fontsize=11, va="center")
add_legend(ax3, ["magenta", "red", "blue"],
           [r"small μ, m$_0$>1250 GeV", r"small μ, m$_0$<1250 GeV", r"small M$_2$"], (0.998, 0.023), 10)

# ---- panel (d) ----
setup_axes(ax4, -13, ylab + "a")
draw_limits(ax4, {"XENON100": (644, -7.65, "left"), "LUX85": (2017, -7.55, "right"),
                  "LUX300": (2034, -8.29, "right"), "XENON1T": (2060, -9.43, "right")}, weight="bold")
ax4.scatter(*from_pairs(p4_magenta), **STY["magenta"])
ax4.scatter(*from_rows(p4_red_rows), **STY["red"])
ax4.scatter(*from_pairs(p4_red_other), **STY["red"])
ax4.scatter(*from_rows(p4_blue_rows), **STY["blue"])
ax4.scatter(*from_pairs(p4_blue_streak), **STY["blue"])
ax4.text(0.027, 0.955, r"tanβ=30, A$_0$/m$_0$=-2", transform=ax4.transAxes, fontsize=11, va="center")
add_legend(ax4, ["magenta", "red", "blue"],
           [r"small μ, m$_0$>1250 GeV", r"small μ, m$_0$<1250 GeV", r"small M$_2$"], (0.998, 0.023), 10)

fig.savefig("out.png", dpi=100)
